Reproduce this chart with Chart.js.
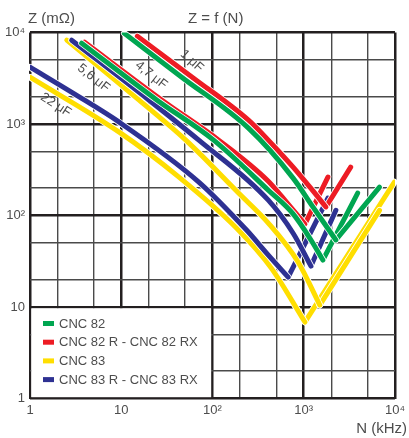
<!DOCTYPE html>
<html>
<head>
<meta charset="utf-8">
<script src="https://cdn.jsdelivr.net/npm/chart.js@4.4.0/dist/chart.umd.min.js"></script>
<style>
  html, body { margin: 0; padding: 0; background: #fff; }
  #wrap { width: 409px; height: 438px; position: relative; }
</style>
</head>
<body>
<div id="wrap"><canvas id="chart"></canvas></div>
<script>
// legend entries and colours
var seriesNames = ['CNC 82', 'CNC 82 R - CNC 82 RX', 'CNC 83', 'CNC 83 R - CNC 83 RX'];
var seriesColors = ['#00a651', '#ed1c24', '#ffde00', '#2e3192'];

// N (kHz) and Z (mOhm)
var cnc82_1uF_x  = [10.8, 46, 248, 765, 1260, 2250, 6770];
var cnc82_1uF_y  = [9800, 3250, 900, 256, 124, 54, 204];
var cnc82r_1uF_x = [15, 62, 248, 409, 765, 1170, 1750, 3270];
var cnc82r_1uF_y = [9100, 3170, 1100, 666, 338, 204, 124, 338];
var cnc82_47uF_x  = [3.68, 24.7, 103, 409, 765, 1200, 1620, 3900];
var cnc82_47uF_y  = [7640, 1820, 666, 189, 104, 54, 32.6, 176];
var cnc82r_47uF_x = [3.97, 28, 117, 409, 675, 1030, 1840];
var cnc82r_47uF_y = [7830, 1820, 666, 237, 133, 80.5, 263];
var cnc83_56uF_x  = [2.53, 15.7, 51, 193, 409, 867, 1500, 6770];
var cnc83_56uF_y  = [8240, 1820, 666, 176, 82.6, 31, 10.5, 114];
var cnc83r_56uF_x = [2.86, 20.2, 70.8, 409, 765, 1200, 2250];
var cnc83r_56uF_y = [8240, 1820, 666, 147, 64, 28, 114];
var cnc83_22uF_x  = [1, 9.5, 42.9, 183, 441, 1030, 9850];
var cnc83_22uF_y  = [3250, 815, 263, 72.9, 26.6, 6.85, 232];
var cnc83r_22uF_x = [1, 3.09, 9.5, 70.8, 236, 409, 675, 1840];
var cnc83r_22uF_y = [4180, 2120, 1047, 232, 69.3, 36.9, 21.2, 155];

// axis ticks
var decadeTicks = [1, 10, 100, 1000, 10000];
var minorTicks = [2, 5, 20, 50, 200, 500, 2000, 5000];
var xTickLabels = ['1', '10', '10²', '10³', '10⁴'];
var yTickLabels = ['1', '10', '10²', '10³', '10⁴'];

// capacitance labels along the curves
var capLabels = ['1 μF', '4,7 μF', '5,6 μF', '22 μF'];
var capLabelX = [59.4, 21.3, 4.97, 1.92];
var capLabelY = [4860, 3420, 3170, 1610];
var capLabelAngle = [42, 38, 38, 33];

var FONT = "'Liberation Sans', Arial, sans-serif";
var TEXT = '#4d4d4d';

function pts(xs, ys, from, to) {
  var out = [];
  for (var i = from; i <= to; i++) out.push({x: xs[i], y: ys[i]});
  return out;
}
// each curve = falling branch (smoothed) + rising branch, joined at the dip
function curve(k, xs, ys) {
  var m = ys.indexOf(Math.min.apply(null, ys));
  var base = {
    label: seriesNames[k],
    borderColor: seriesColors[k],
    backgroundColor: seriesColors[k],
    borderWidth: 5,
    pointRadius: 0,
    borderCapStyle: 'round',
    fill: false
  };
  return [
    Object.assign({}, base, { data: pts(xs, ys, 0, m), cubicInterpolationMode: 'monotone' }),
    Object.assign({}, base, { data: pts(xs, ys, m, xs.length - 1), tension: 0 })
  ];
}
var allTicks = decadeTicks.concat(minorTicks).sort(function(a, b) { return a - b; });
function isDecade(v) { return decadeTicks.indexOf(v) >= 0; }

var gridOpts = {
  drawTicks: false,
  color: function(c) { return c.tick && isDecade(c.tick.value) ? '#231f20' : '#4a4a4a'; },
  lineWidth: function(c) { return c.tick && isDecade(c.tick.value) ? 2.5 : 1.4; }
};

// thin white edge under each curve
var halo = {
  id: 'halo',
  beforeDatasetDraw: function(chart, args) {
    var el = args.meta.dataset, ctx = chart.ctx;
    ctx.save();
    ctx.beginPath();
    el.path(ctx);
    ctx.strokeStyle = '#fff';
    ctx.lineWidth = 6.6;
    ctx.lineCap = 'round';
    ctx.stroke();
    ctx.restore();
  }
};

var decor = {
  id: 'decor',
  beforeDatasetsDraw: function(chart) {
    var ctx = chart.ctx, xs = chart.scales.x, ys = chart.scales.y;
    var l = xs.getPixelForValue(1), r = xs.getPixelForValue(100);
    var t = ys.getPixelForValue(10), b = ys.getPixelForValue(1);
    ctx.save();
    ctx.fillStyle = '#fff';
    ctx.fillRect(l + 1.3, t + 1.3, r - l - 2.6, b - t - 2.6);
    ctx.font = '13px ' + FONT;
    ctx.textBaseline = 'middle';
    seriesNames.forEach(function(name, i) {
      var y = t + 16.5 + i * 18.7;
      ctx.fillStyle = seriesColors[i];
      ctx.fillRect(l + 13, y - 2.5, 11, 5);
      ctx.fillStyle = TEXT;
      ctx.fillText(name, l + 29, y + 0.5);
    });
    ctx.restore();
  },
  afterDraw: function(chart) {
    var ctx = chart.ctx, xs = chart.scales.x, ys = chart.scales.y;
    ctx.save();
    ctx.fillStyle = TEXT;
    ctx.font = '15px ' + FONT;
    ctx.textBaseline = 'alphabetic';
    ctx.textAlign = 'left';
    ctx.fillText('Z (mΩ)', 28, 23);
    ctx.fillText('Z = f (N)', 188, 23);
    ctx.textAlign = 'right';
    ctx.fillText('N (kHz)', 407, 433);
    ctx.font = '13px ' + FONT;
    ctx.textAlign = 'center';
    ctx.textBaseline = 'middle';
    capLabels.forEach(function(txt, i) {
      ctx.save();
      ctx.translate(xs.getPixelForValue(capLabelX[i]), ys.getPixelForValue(capLabelY[i]));
      ctx.rotate(capLabelAngle[i] * Math.PI / 180);
      ctx.fillText(txt, 0, 0);
      ctx.restore();
    });
    ctx.restore();
  }
};

var datasets = [].concat(
  curve(0, cnc82_1uF_x, cnc82_1uF_y),
  curve(1, cnc82r_1uF_x, cnc82r_1uF_y),
  curve(0, cnc82_47uF_x, cnc82_47uF_y),
  curve(1, cnc82r_47uF_x, cnc82r_47uF_y),
  curve(3, cnc83r_56uF_x, cnc83r_56uF_y),
  curve(2, cnc83_56uF_x, cnc83_56uF_y),
  curve(3, cnc83r_22uF_x, cnc83r_22uF_y),
  curve(2, cnc83_22uF_x, cnc83_22uF_y)
);

new Chart('chart', {
  type: 'line',
  data: { datasets: datasets },
  options: {
    responsive: true,
    maintainAspectRatio: false,
    animation: false,
    layout: { padding: { top: 32.5, right: 11.5, left: 0, bottom: 0 } },
    plugins: { legend: { display: false }, tooltip: { enabled: false } },
    scales: {
      x: {
        type: 'logarithmic',
        min: 1, max: 10000,
        afterBuildTicks: function(s) { s.ticks = allTicks.map(function(v) { return {value: v}; }); },
        afterFit: function(s) { s.height = 39.5; },
        grid: gridOpts,
        border: { display: false },
        ticks: {
          autoSkip: false, maxRotation: 0, padding: 4,
          color: TEXT, font: { family: FONT, size: 13 },
          callback: function(v) { var i = decadeTicks.indexOf(v); return i >= 0 ? xTickLabels[i] : ''; }
        }
      },
      y: {
        type: 'logarithmic',
        min: 1, max: 10000,
        afterBuildTicks: function(s) { s.ticks = allTicks.map(function(v) { return {value: v}; }); },
        afterFit: function(s) { s.width = 30; },
        grid: gridOpts,
        border: { display: false },
        ticks: {
          autoSkip: false, padding: 5,
          color: TEXT, font: { family: FONT, size: 13 },
          callback: function(v) { var i = decadeTicks.indexOf(v); return i >= 0 ? yTickLabels[i] : ''; }
        }
      }
    }
  },
  plugins: [halo, decor]
});
</script>
</body>
</html>
